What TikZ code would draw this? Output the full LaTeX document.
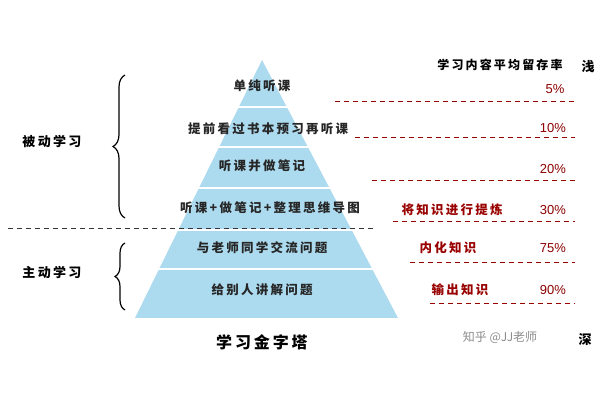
\documentclass[tikz,border=0pt]{standalone}
\usepackage{fontspec}
\setmainfont{Noto Sans CJK SC}
\newfontfamily\cjksp[LetterSpace=18]{Noto Sans CJK SC}
\newfontfamily\pct{Liberation Sans}
\usetikzlibrary{decorations.pathreplacing}
\begin{document}
\begin{tikzpicture}[x=1pt,y=-1pt,
  lvl/.style={font=\cjksp\bfseries\fontsize{12.5}{14}\selectfont, text=black!85},
  rdash/.style={dashed, dash pattern=on 5pt off 4pt, draw=red!60!black, line width=1pt},
  pc/.style={font=\pct\fontsize{13}{15}\selectfont, text=red!55!black},
  red lbl/.style={font=\cjksp\bfseries\fontsize{12.5}{14}\selectfont, text=red!60!black},
  side/.style={font=\cjksp\bfseries\fontsize{13}{15}\selectfont}]
\useasboundingbox (0,0) rectangle (600,400);
\fill[white] (0,0) rectangle (600,400);
\definecolor{pyr}{RGB}{172,218,238}
\begin{scope}
\clip (262,60) -- (398,318) -- (135,318) -- cycle;
\foreach \a/\b in {60/106,108/146,148/187,189/229,231/268,270/318}{
  \fill[pyr] (100,\a) rectangle (420,\b);}
\end{scope}
\node[lvl] (l1) at (262,86) {单纯听课};
\node[lvl] (l2) at (268,129) {提前看过书本预习再听课};
\node[lvl] (l3) at (262,166) {听课并做笔记};
\node[lvl] (l4) at (270,208) {听课+做笔记+整理思维导图};
\node[lvl] (l5) at (262,248) {与老师同学交流问题};
\node[lvl] (l6) at (262,290) {给别人讲解问题};
\coordinate (dl) at (8,228); \coordinate (dr) at (376,228);
\draw[dashed, dash pattern=on 5pt off 4pt, line width=1pt, black!80] (dl) -- (dr);
\node[font=\cjksp\bfseries\fontsize{12}{14}\selectfont] (hd) at (500,65) {学习内容平均留存率};
\node[font=\bfseries\fontsize{13}{15}\selectfont] (qian) at (588,67) {浅};
\node[pc] (p1) at (555,89) {5\%};
\node[pc] (p2) at (553,128) {10\%};
\node[pc] (p3) at (553,169) {20\%};
\node[pc] (p4) at (553,210) {30\%};
\node[pc] (p5) at (553,248) {75\%};
\node[pc] (p6) at (553,290) {90\%};
\node[red lbl] (r4) at (452,210) {将知识进行提炼};
\node[red lbl] (r5) at (448,248) {内化知识};
\node[red lbl] (r6) at (460,290) {输出知识};
\foreach \y/\x in {101/335,137/355,180/372,221/393,262/410,303/430}{
  \draw[rdash] (\x,\y) -- (575,\y);}
\draw[decorate, decoration={brace, amplitude=12pt}, line width=1.2pt] (125,218) -- (125,75);
\draw[decorate, decoration={brace, amplitude=10pt}, line width=1.2pt] (125,310) -- (125,243);
\node[side] (s1) at (52,141) {被动学习};
\node[side] (s2) at (52,272) {主动学习};
\node[font=\cjksp\bfseries\fontsize{16}{18}\selectfont] (t) at (262,342) {学习金字塔};
\node[font=\fontsize{12}{14}\selectfont, text=black!45] (wm) at (500,337) {知乎 @JJ老师};
\node[font=\bfseries\fontsize{13}{15}\selectfont] (shen) at (585,340) {深};
\end{tikzpicture}
\end{document}
